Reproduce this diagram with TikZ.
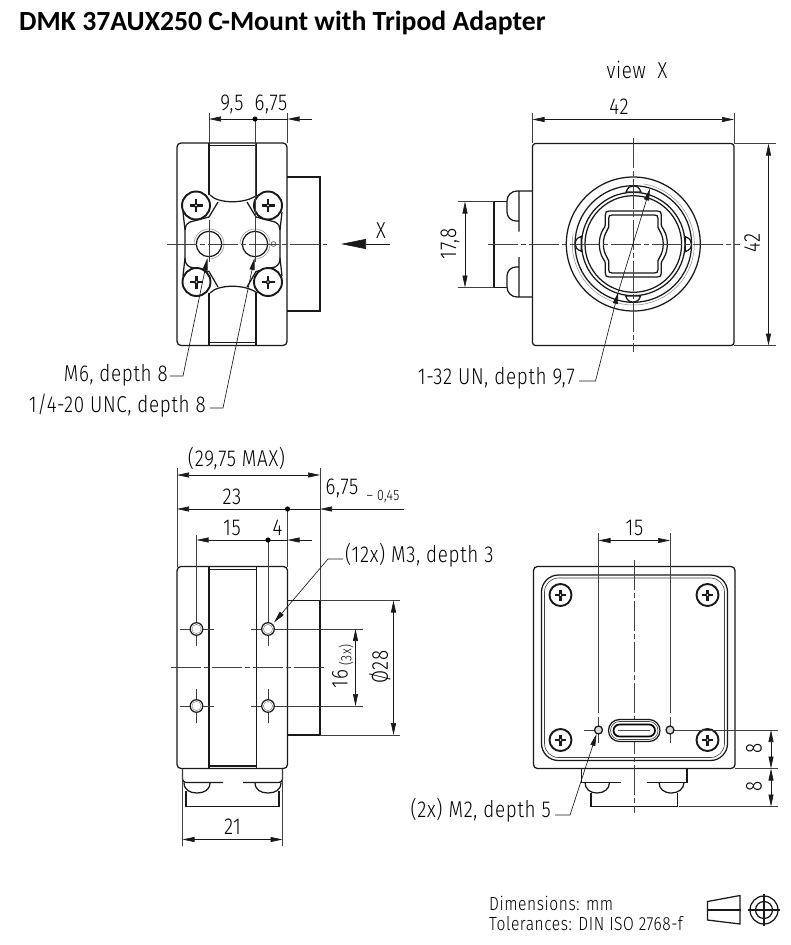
\documentclass[tikz,border=0pt]{standalone}
\usepackage{fontspec}
\usetikzlibrary{arrows.meta}
\newfontfamily\isofont[FakeStretch=0.82,LetterSpace=3]{Fira Sans Light}
\newfontfamily\titlefont{Carlito}
\tikzset{>={Stealth[length=12pt,width=5pt,inset=0pt]}}
\tikzset{
  body/.style={line width=1.25pt,color=black!90},
  fine/.style={line width=0.6pt,color=black!75},
  axis/.style={line width=0.6pt,color=black!75,dash pattern=on 30pt off 3pt on 5pt off 3pt},
  thread/.style={line width=0.5pt,color=black!45},
  dimline/.style={line width=0.65pt,color=black!90},
  lbl/.style={inner sep=0pt,font=\isofont\fontsize{23}{26}\selectfont,color=black},
  lblsmall/.style={inner sep=0pt,font=\isofont\fontsize{15}{17}\selectfont,color=black},
  lblfoot/.style={inner sep=0pt,anchor=west,font=\isofont\fontsize{19}{22}\selectfont,color=black}
}
% screw head with cross: x, y, radius, arm
\newcommand{\screwhead}[4]{
  \draw[line width=1.9pt,color=black!90,fill=white] (#1,#2) circle[radius=#3];
  \draw[line width=2.9pt,color=black!90] (#1-#4,#2) -- (#1+#4,#2) (#1,#2-#4) -- (#1,#2+#4);
  \fill[black!90] (#1-3,#2) -- (#1,#2-3) -- (#1+3,#2) -- (#1,#2+3) -- cycle;
  \fill[white] (#1,#2) circle[radius=0.8];
}
\newcommand{\drillhole}[3]{\draw[body,fill=white] (#1,#2) circle[radius=#3];}
\newcommand{\dimdot}[2]{\fill[black] (#1,#2) circle[radius=2.6];}
\begin{document}
\begin{tikzpicture}[x=1pt,y=-1pt]
  \useasboundingbox (0,0) rectangle (791,945);
  \node (title) at (19,23) [anchor=west,inner sep=0pt,font=\titlefont\bfseries\fontsize{27.7}{30}\selectfont] {DMK 37AUX250 C-Mount with Tripod Adapter};

  % top left view
  \draw[body,rounded corners=4] (177,143) rectangle (287,345.5);
  \draw[body] (209,143) -- (209,195) (256,143) -- (256,195) (209,293) -- (209,345.5) (256,293) -- (256,345.5);
  \draw[body] (209,145.5) -- (256,145.5) (209,342.5) -- (256,342.5);
  \draw[body] (287,177) -- (320,177) -- (320,311) -- (287,311);
  \draw[body] (210,195) .. controls (218,204) and (246,204) .. (257,195);
  \draw[body] (210,293) .. controls (218,284) and (246,284) .. (257,293);
  \draw[body] (218,202) -- (209,217) -- (190,222) .. controls (186,224) and (185,227) .. (185,230) -- (185,258) .. controls (185,262) and (186,265) .. (190,267) -- (209,271.5) -- (218,287);
  \draw[body] (247,202) -- (256,217) -- (275,222) .. controls (279,224) and (280,227) .. (280,230) -- (280,258) .. controls (280,262) and (279,265) .. (275,267) -- (256,271.5) -- (247,287);
  \draw[body] (183,212) -- (185,230) (282,212) -- (280,230) (183,276) -- (185,258) (282,276) -- (280,258);
  \screwhead{196}{205.5}{14}{6.5}
  \screwhead{268}{205.5}{14}{6.5}
  \screwhead{196.5}{282}{14}{6.5}
  \screwhead{268}{282}{14}{6.5}
  \drillhole{209}{244}{12.7}
  \drillhole{255}{244}{12.7}
  \draw[thread] (194,244) arc[start angle=180,end angle=450,radius=15];
  \draw[thread] (240,244) arc[start angle=180,end angle=450,radius=15];
  \draw[fine] (273.5,244) circle[radius=2.4];
  \draw[axis] (167,244) -- (327,244);
  \draw[fine] (209,113) -- (209,143) (209,220) -- (209,262) (255,119) -- (255,262) (287.5,113) -- (287.5,143);
  \draw[dimline,<-] (209,119) -- (255,119);
  \draw[dimline,<-] (287.5,119) -- (311.5,119);
  \draw[dimline] (287.5,119) -- (255,119);
  \dimdot{255}{119}
  \node[lbl] (d95) at (232,104) {9,5};
  \node[lbl] (d675a) at (271,104) {6,75};
  \coordinate (xend) at (390,244);
  \coordinate (xtip) at (341,244);
  \draw[dimline,-{Stealth[length=25pt,width=10pt,inset=0pt]}] (xend) -- (xtip);
  \node[lbl] (xmark) at (381,231) {X};
  \node[lbl] (m6) at (168,375) [anchor=east] {M6, depth 8};
  \node[lbl] (unc) at (206,406) [anchor=east] {1/4-20 UNC, depth 8};
  \coordinate (m6tip) at (207.5,258);
  \coordinate (unctip) at (254.5,258);
  \draw[dimline,->] (m6.east) ++(2,1) -- (183,376) -- (m6tip);
  \draw[dimline,->] (unc.east) ++(4,2) -- (223,408) -- (unctip);

  % view X
  \node[lbl] (viewx) at (637,70) {view\ \ X};
  \draw[body,rounded corners=3] (532.5,143.5) rectangle (734,345.5);
  \draw[body] (532.5,191) -- (517,191) arc[start angle=270,end angle=180,radius=10] -- (507,212) arc[start angle=180,end angle=90,radius=9] -- (519,221) (519,191) -- (519,231.5);
  \draw[body] (532.5,297) -- (517,297) arc[start angle=90,end angle=180,radius=10] -- (507,276) arc[start angle=180,end angle=270,radius=9] -- (519,267) (519,297) -- (519,257);
  \draw[body] (507,201.5) -- (494,201.5) -- (494,287.5) -- (507,287.5);
  \foreach \r in {67,58.3,51.7,48.3} \draw[body] (633.3,244) circle[radius=\r];
  \draw[thread] (633.3,244) ++(-80:61) arc[start angle=-80,end angle=190,radius=61];
  \foreach \a in {0,90,180,270}
    \draw[body,fill=white,rotate around={\a:(633.3,244)}] (626,192) .. controls (628,187) and (630,186) .. (633.3,186) .. controls (637,186) and (639,187) .. (641,192) -- cycle;
  \foreach \s in {1,0.88} {
    \begin{scope}[shift={(633.3,244)},scale=\s]
      \draw[body] (-24,-33) -- (24,-33) .. controls (27,-33) and (28,-32) .. (28,-29) -- (28,-19) .. controls (28,-17) and (29,-17) .. (30,-15) .. controls (33,-10) and (34,-5) .. (34,0) .. controls (34,5) and (33,10) .. (30,15) .. controls (29,17) and (28,17) .. (28,19) -- (28,29) .. controls (28,32) and (27,33) .. (24,33) -- (-24,33) .. controls (-27,33) and (-28,32) .. (-28,29) -- (-28,19) .. controls (-28,17) and (-29,17) .. (-30,15) .. controls (-33,10) and (-34,5) .. (-34,0) .. controls (-34,-5) and (-33,-10) .. (-30,-15) .. controls (-29,-17) and (-28,-17) .. (-28,-19) -- (-28,-29) .. controls (-28,-32) and (-27,-33) .. (-24,-33) -- cycle;
    \end{scope}
  }
  \draw[axis] (488,244) -- (740,244);
  \draw[axis] (633.3,138) -- (633.3,351.5);
  \draw[fine] (532.5,113) -- (532.5,143) (734,113) -- (734,143) (734,143.5) -- (776,143.5) (734,345.5) -- (776,345.5) (458,201.5) -- (494,201.5) (458,287.5) -- (494,287.5);
  \draw[dimline,<->] (532.5,119.5) -- (734,119.5);
  \draw[dimline,<->] (768.5,143.5) -- (768.5,345.5);
  \draw[dimline,<->] (465,201.5) -- (465,287.5);
  \node[lbl] (w42) at (619,107) {42};
  \node[lbl,rotate=90] (h42) at (752,243) {42};
  \node[lbl,rotate=90] (d178) at (450,244) {17,8};
  \node[lbl] (un) at (575,378) [anchor=east] {1-32 UN, depth 9,7};
  \coordinate (untop) at (650,188.5);
  \coordinate (unbot) at (618.3,292);
  \draw[dimline,->] (579,381) -- (595.5,381) -- (unbot);
  \draw[dimline,->] (unbot) -- (untop);

  % side view
  \draw[body,rounded corners=4] (177,566.5) rectangle (287.5,768.5);
  \draw[body] (209,566.5) -- (209,768.5) (256.5,566.5) -- (256.5,768.5) (209,569.5) -- (256.5,569.5) (209,766) -- (256.5,766);
  \draw[body] (287.5,600.5) -- (320,600.5) -- (320,735) -- (287.5,735);
  \draw[axis] (170.5,667.5) -- (326,667.5);
  \draw[body] (182.5,768.5) -- (182.5,779) arc[start angle=180,end angle=90,radius=3.5] -- (223,782.5) (243,782.5) -- (279,782.5) arc[start angle=90,end angle=0,radius=3.5] -- (282.5,768.5);
  \draw[body] (184,782.5) .. controls (184,790) and (190,793) .. (197,793) .. controls (204,793) and (210,790) .. (210,782.5);
  \draw[body] (255,782.5) .. controls (255,790) and (261,793) .. (268,793) .. controls (275,793) and (281,790) .. (281,782.5);
  \draw[body] (186,791) -- (186,806.5) -- (279,806.5) -- (279,791);
  \foreach \hx in {196.5,268}
    \foreach \hy in {629,706} {
      \draw[fine] (\hx-17,\hy) -- (\hx+17,\hy) (\hx,\hy-17) -- (\hx,\hy+17);
      \drillhole{\hx}{\hy}{6.3}
      \draw[thread] (\hx,\hy) circle[radius=4.6];
    }
  \draw[fine] (177,468) -- (177,566.5) (320,468) -- (320,600.5) (287.5,509) -- (287.5,566.5) (196.5,535) -- (196.5,612) (268,540) -- (268,612);
  \draw[fine] (285,629) -- (363,629) (285,706) -- (363,706) (320,600.5) -- (400,600.5) (320,735) -- (400,735);
  \draw[fine] (182.5,768.5) -- (182.5,846) (282.5,768.5) -- (282.5,846);
  \draw[dimline,<->] (177,475) -- (320,475);
  \draw[dimline,<-] (177,509) -- (287.5,509);
  \draw[dimline,<-] (320,509) -- (404,509);
  \draw[dimline] (320,509) -- (287.5,509);
  \draw[dimline,<-] (196.5,540) -- (268,540);
  \draw[dimline,<-] (287.5,540) -- (311.5,540);
  \draw[dimline] (268,540) -- (287.5,540);
  \dimdot{287.5}{509}
  \dimdot{268}{540}
  \draw[dimline,<->] (355.5,629) -- (355.5,706);
  \draw[dimline,<->] (393.5,600.5) -- (393.5,735);
  \draw[dimline,<->] (182.5,839.5) -- (282.5,839.5);
  \node[lbl] (dmax) at (236.5,459) {(29,75 MAX)};
  \node[lbl] (d23) at (232,497) {23};
  \node[lbl] (d675b) at (342,488) {6,75};
  \node[lblsmall] (dtol) at (383,497) {– 0,45};
  \node[lbl] (d15a) at (232,528) {15};
  \node[lbl] (d4) at (277.5,528) {4};
  \node[lbl,rotate=90] (d16) at (340,679) {16};
  \node[lblsmall,rotate=90] (d3x) at (346,655) {(3x)};
  \node[lbl,rotate=90] (d28) at (380,667) {Ø28};
  \node[lbl] (d21) at (232.5,827) {21};
  \node[lbl] (m3) at (345,555) [anchor=west] {(12x) M3, depth 3};
  \coordinate (m3tip) at (274,622.5);
  \draw[dimline,->] (343,559) -- (328,559) -- (m3tip);

  % rear view
  \draw[body,rounded corners=4] (533.5,566.5) rectangle (735,768.5);
  \draw[body,rounded corners=17] (541.5,575) rectangle (727.5,760.5);
  \draw[fine,rounded corners=14] (544.5,578) rectangle (724.5,757.5);
  \screwhead{560.5}{595}{11}{5.5}
  \screwhead{707.5}{595}{11}{5.5}
  \screwhead{560.5}{740}{11}{5.5}
  \screwhead{707.5}{740}{11}{5.5}
  \draw[body] (581.5,768.5) -- (581.5,782.5) -- (620.5,782.5) (687,768.5) -- (687,782.5) -- (646.5,782.5);
  \draw[body] (585,782.5) .. controls (585,789) and (590,793) .. (597,793) .. controls (604,793) and (609.5,789) .. (609.5,782.5);
  \draw[body] (659,782.5) .. controls (659,789) and (664,793) .. (671.5,793) .. controls (678,793) and (684,789) .. (684,782.5);
  \draw[body] (591,793) -- (591,806.5) -- (677.5,806.5) -- (677.5,793);
  \draw[axis] (634,560) -- (634,813);
  \draw[body,rounded corners=11,fill=white] (608.5,719.5) rectangle (660,741.5);
  \draw[fine,rounded corners=9] (610.5,721.5) rectangle (658,739.5);
  \draw[line width=1.7pt,rounded corners=6] (613.5,724.5) rectangle (655,736.5);
  \draw[line width=1.5pt,color=black!70] (618,730.5) -- (650,730.5);
  \draw[fine] (598.5,533) -- (598.5,713) (670,533) -- (670,713) (598.5,717) -- (598.5,743) (670,717) -- (670,743);
  \draw[fine] (584,730) -- (594,730) (674,730) -- (778,730) (735,768.5) -- (778,768.5) (679,806.5) -- (778,806.5);
  \draw[body,fill=black!15] (598.5,730) circle[radius=4];
  \draw[body,fill=black!15] (670,730) circle[radius=4];
  \draw[dimline,<->] (598.5,540.5) -- (670,540.5);
  \draw[dimline,<->] (771,730) -- (771,768.5);
  \draw[dimline,<->] (771,768.5) -- (771,806.5);
  \node[lbl] (d15b) at (634.5,528) {15};
  \node[lbl,rotate=90] (d8a) at (754,748) {8};
  \node[lbl,rotate=90] (d8b) at (754,786) {8};
  \node[lbl] (m2) at (551,810) [anchor=east] {(2x) M2, depth 5};
  \coordinate (m2tip) at (596.5,734);
  \draw[dimline,->] (555,815) -- (570,815) -- (m2tip);

  % footer
  \node[lblfoot] (dimtext) at (489,903) {Dimensions: mm};
  \node[lblfoot] (toltext) at (489,924) {Tolerances: DIN ISO 2768-f};
  \draw[body] (707.5,901.5) -- (740,895.5) -- (740,924) -- (707.5,920) -- cycle;
  \draw[body] (706.5,910) -- (741,910);
  \draw[body] (764,910) circle[radius=14] (764,910) circle[radius=8.5];
  \draw[body] (748,910) -- (780,910) (764,894) -- (764,926);
\end{tikzpicture}
\end{document}
